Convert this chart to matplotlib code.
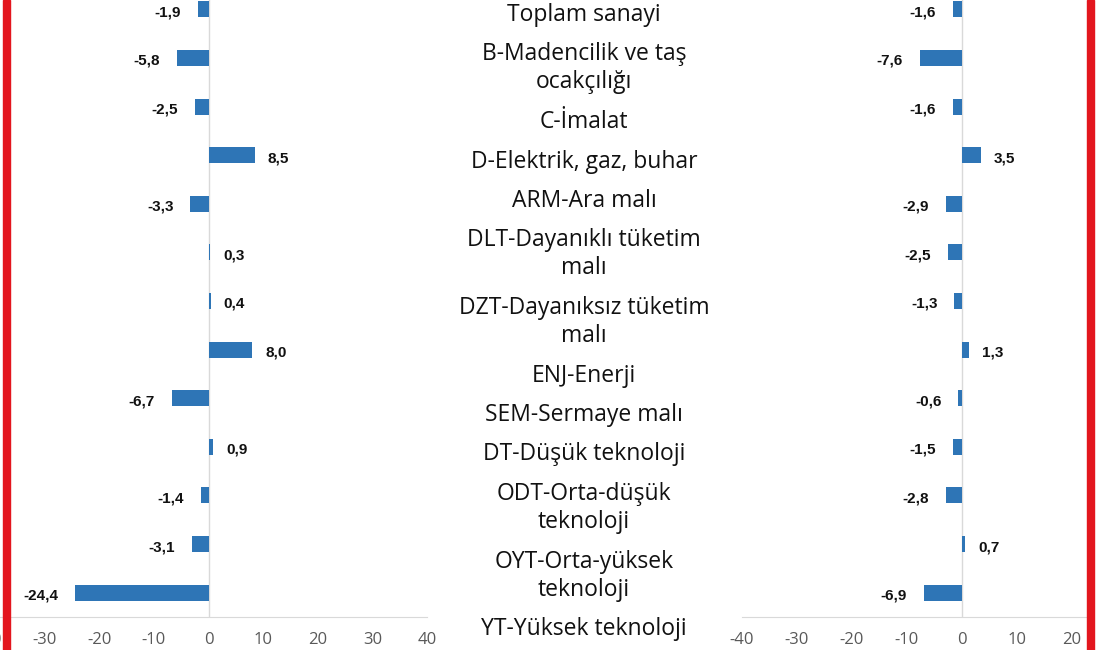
import matplotlib.pyplot as plt
from matplotlib.patches import Rectangle

# data
categories = [
    "Toplam sanayi",
    "B-Madencilik ve taş\nocakçılığı",
    "C-İmalat",
    "D-Elektrik, gaz, buhar",
    "ARM-Ara malı",
    "DLT-Dayanıklı tüketim\nmalı",
    "DZT-Dayanıksız tüketim\nmalı",
    "ENJ-Enerji",
    "SEM-Sermaye malı",
    "DT-Düşük teknoloji",
    "ODT-Orta-düşük\nteknoloji",
    "OYT-Orta-yüksek\nteknoloji",
    "YT-Yüksek teknoloji",
]
left_values = [-1.9, -5.8, -2.5, 8.5, -3.3, 0.3, 0.4, 8.0, -6.7, 0.9, -1.4, -3.1, -24.4]
right_values = [-1.6, -7.6, -1.6, 3.5, -2.9, -2.5, -1.3, 1.3, -0.6, -1.5, -2.8, 0.7, -6.9]
left_ticks = [-40, -30, -20, -10, 0, 10, 20, 30, 40]
right_ticks = [-40, -30, -20, -10, 0, 10, 20]

W, H = 1100, 650
BAR_COLOR = "#2e75b6"
GRID = "#d9d9d9"
TICK_COLOR = "#595959"
RED = "#e3161e"

fig = plt.figure(figsize=(W / 100, H / 100), dpi=100)
fig.patch.set_facecolor("white")


def px_axes(x0, x1, y_top, y_bottom):
    # place an axes using pixel coordinates measured from the top-left
    return fig.add_axes([x0 / W, 1 - y_bottom / H, (x1 - x0) / W, (y_bottom - y_top) / H])


def fmt(v):
    return f"{v:.1f}".replace(".", ",")


def bar_panel(ax, values, ticks, xlim):
    n = len(values)
    ax.barh(range(n), values, height=0.33, color=BAR_COLOR, zorder=3)
    ax.axvline(0, color=GRID, lw=1, zorder=1)
    ax.set_xlim(*xlim)
    ax.set_ylim(n - 0.5, -0.5)
    ax.set_xticks(ticks)
    ax.set_xticklabels([str(t) for t in ticks], family="Open Sans", fontsize=12, color=TICK_COLOR)
    ax.set_yticks([])
    ax.tick_params(axis="x", length=0, pad=11)
    for side in ("top", "right", "left"):
        ax.spines[side].set_visible(False)
    ax.spines["bottom"].set_color(GRID)
    ax.patch.set_alpha(0)
    for i, v in enumerate(values):
        if v < 0:
            off, ha = (-17, -3), "right"
        else:
            off, ha = (13, -3), "left"
        ax.annotate(fmt(v), (v, i), xytext=off, textcoords="offset pixels",
                    ha=ha, va="center", fontsize=11, fontweight="bold",
                    family="Liberation Sans", color="#111111")


ax_l = px_axes(-10, 427, -15, 617)
bar_panel(ax_l, left_values, left_ticks, (-40, 40))

ax_r = px_axes(741.7, 1088, -15, 617)
bar_panel(ax_r, right_values, right_ticks, (-40, 23))

# middle column of category names, laid out like flowing text
ax_t = px_axes(430, 740, 0, 650)
ax_t.set_xlim(430, 740)
ax_t.set_ylim(650, 0)
ax_t.axis("off")
y = 15
line_gap, label_gap = 28, 39.5
for k, label in enumerate(categories):
    if k > 0:
        y += label_gap
    for j, line in enumerate(label.split("\n")):
        if j > 0:
            y += line_gap
        ax_t.text(584, y, line, ha="center", va="center", fontsize=16.5,
                  family="Open Sans", color="#111111")

# red frame edges
fig.add_artist(Rectangle((3 / W, 0), 7 / W, 1, transform=fig.transFigure,
                         color=RED, zorder=20))
fig.add_artist(Rectangle((1087 / W, 0), 7 / W, 1, transform=fig.transFigure,
                         color=RED, zorder=20))

fig.savefig("out.png", dpi=100)
